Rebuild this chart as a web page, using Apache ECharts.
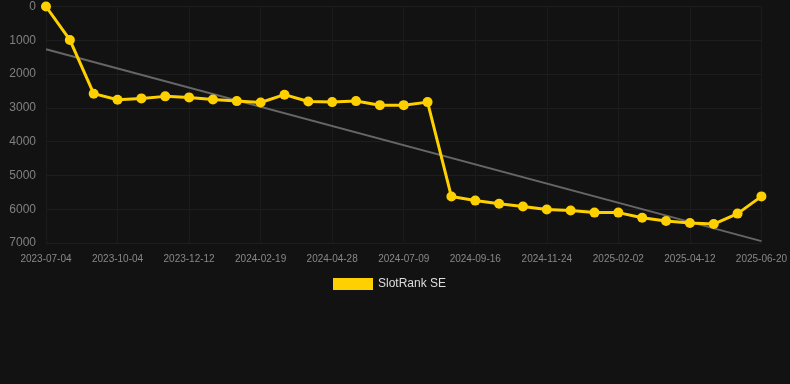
<!DOCTYPE html>
<html><head><meta charset="utf-8">
<script src="https://cdn.jsdelivr.net/npm/echarts@6/dist/echarts.min.js"></script>
<style>html,body{margin:0;padding:0;background:#121212;}#c{width:790px;height:384px;}</style>
</head><body><div id="c"></div>
<script>
const categories = ["2023-07-04","2023-08-04","2023-09-04","2023-10-04","2023-10-27","2023-11-19","2023-12-12","2024-01-04","2024-01-27","2024-02-19","2024-03-13","2024-04-05","2024-04-28","2024-05-22","2024-06-15","2024-07-09","2024-08-01","2024-08-24","2024-09-16","2024-10-09","2024-11-01","2024-11-24","2024-12-17","2025-01-09","2025-02-02","2025-02-25","2025-03-20","2025-04-12","2025-05-05","2025-05-28","2025-06-20"];
const rankValues = [0,990,2580,2760,2720,2660,2690,2750,2800,2840,2610,2810,2830,2800,2920,2920,2830,5625,5745,5840,5920,6010,6040,6100,6100,6250,6350,6410,6440,6130,5620];
const trendStart = 1265;
const trendEnd = 6945;
const yTicks = [0,1000,2000,3000,4000,5000,6000,7000];
const seriesName = "SlotRank SE";

const trendData = categories.map((c,i)=> i===0 ? trendStart : (i===categories.length-1 ? trendEnd : null));

const chart = echarts.init(document.getElementById('c'));
chart.setOption({
  backgroundColor:'#121212',
  animation:false,
  grid:{left:46,right:28,top:6.5,bottom:141,containLabel:false},
  legend:{data:[seriesName],top:278,left:333,padding:0,itemWidth:40,itemHeight:12,icon:'rect',itemGap:10,
    textStyle:{color:'#dddddd',fontSize:12,fontFamily:'Arial, Liberation Sans, sans-serif'}},
  xAxis:{type:'category',data:categories,boundaryGap:false,
    axisLine:{show:false},axisTick:{show:false},
    axisLabel:{interval:2,color:'#888888',fontSize:10,margin:11,fontFamily:'Arial, Liberation Sans, sans-serif'},
    splitLine:{show:true,interval:2,lineStyle:{color:'#1b1b1b',width:1}}},
  yAxis:{type:'value',inverse:true,min:yTicks[0],max:yTicks[yTicks.length-1],interval:1000,
    axisLine:{show:false},axisTick:{show:false},
    axisLabel:{color:'#808080',fontSize:12,margin:10,fontFamily:'Arial, Liberation Sans, sans-serif',
      formatter:(v)=>String(v)},
    splitLine:{show:true,lineStyle:{color:'#1e1e1e',width:1}}},
  series:[
    {name:seriesName,type:'line',data:rankValues,color:'#FFD000',
      lineStyle:{width:3,color:'#FFD000'},symbol:'circle',symbolSize:10,
      itemStyle:{color:'#FFD000'},z:3},
    {name:'trend',type:'line',data:trendData,connectNulls:true,symbol:'none',
      lineStyle:{width:2,color:'#666666'},itemStyle:{color:'#666666'},z:2}
  ]
});
</script></body></html>
